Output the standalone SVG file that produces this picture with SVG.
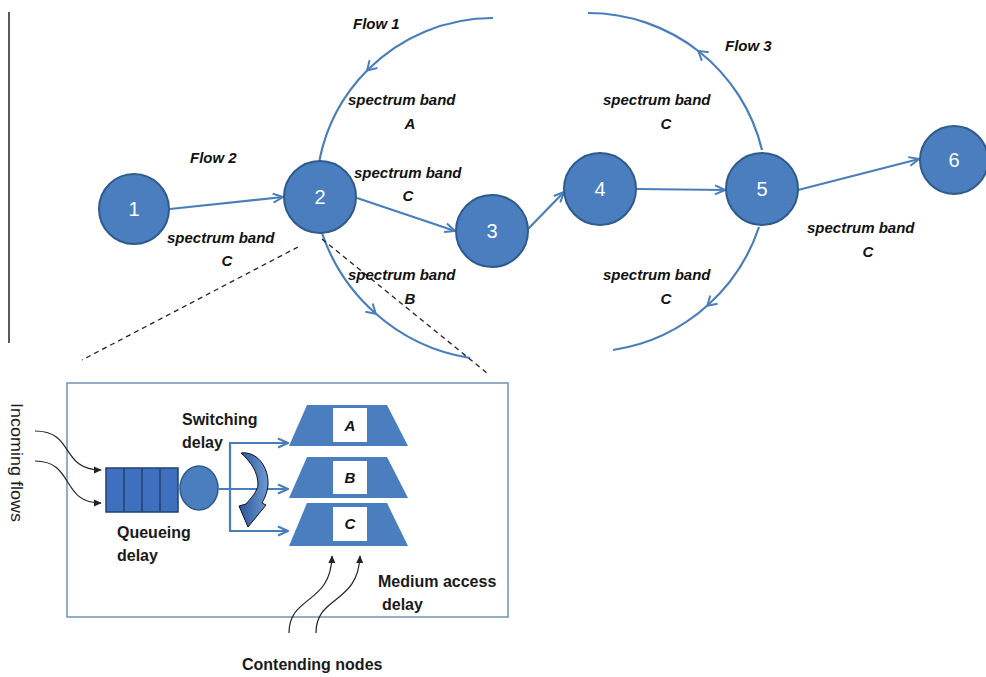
<svg xmlns="http://www.w3.org/2000/svg" width="986" height="677" viewBox="0 0 986 677">
<defs>
<style>
.node{fill:#4a7ebf;stroke:#2f5a8c;stroke-width:2}
.num{font-family:"Liberation Sans",Arial,sans-serif;font-size:20px;fill:#fff;text-anchor:middle}
.lab{font-family:"Liberation Sans",Arial,sans-serif;font-size:15px;font-weight:bold;font-style:italic;fill:#111}
.mid{text-anchor:middle}
.txt{font-family:"Liberation Sans",Arial,sans-serif;font-size:16px;font-weight:bold;fill:#1a1a1a}
.edge{fill:none;stroke:#4a7ebb;stroke-width:2.2}
.dash{fill:none;stroke:#222;stroke-width:1.3;stroke-dasharray:5,4}
.blk{fill:none;stroke:#222;stroke-width:1.2}
.trap{fill:#4a7ebf}
.slot{fill:#fff}
</style>
<marker id="arr" viewBox="0 0 12 12" refX="11" refY="6" markerWidth="12" markerHeight="12" orient="auto" markerUnits="userSpaceOnUse">
<path d="M1,1.5 L11,6 L1,10.5" fill="none" stroke="#4a7ebb" stroke-width="2"/>
</marker>
<marker id="chev" viewBox="0 0 14 14" refX="9" refY="7" markerWidth="14" markerHeight="14" orient="auto" markerUnits="userSpaceOnUse">
<path d="M1,1.5 L10,7 L1,12.5" fill="none" stroke="#4a7ebb" stroke-width="2"/>
</marker>
<marker id="barr" viewBox="0 0 10 10" refX="9" refY="5" markerWidth="8" markerHeight="8" orient="auto" markerUnits="userSpaceOnUse">
<path d="M0,0.5 L10,5 L0,9.5 Z" fill="#222"/>
</marker>
<linearGradient id="cg" x1="0" y1="0" x2="1" y2="0">
<stop offset="0" stop-color="#2c5596"/>
<stop offset="1" stop-color="#6d9ad6"/>
</linearGradient>
</defs>

<line x1="9" y1="12" x2="9" y2="343" stroke="#222" stroke-width="1.5"/>

<g id="connectors">
<line class="edge" x1="170" y1="209" x2="283" y2="197" marker-end="url(#arr)"/>
<line class="edge" x1="357" y1="198" x2="455" y2="231" marker-end="url(#arr)"/>
<line class="edge" x1="528" y1="229" x2="564" y2="192" marker-end="url(#arr)"/>
<line class="edge" x1="637" y1="189" x2="725" y2="190" marker-end="url(#arr)"/>
<line class="edge" x1="798" y1="190" x2="919" y2="159" marker-end="url(#arr)"/>
<path class="edge" d="M493,18 A177,177 0 0 0 367.8,69.8 A177,177 0 0 0 319.5,159.9" marker-mid="url(#chev)"/>
<path class="edge" d="M322,233 A187,187 0 0 0 375,313 A187,187 0 0 0 470,358" marker-mid="url(#chev)"/>
<path class="edge" d="M762,150 A179,179 0 0 0 699,51.5 A179,179 0 0 0 588,13" marker-mid="url(#chev)"/>
<path class="edge" d="M759,227 A183,183 0 0 1 708,305 A183,183 0 0 1 613,350" marker-mid="url(#chev)"/>
<line class="dash" x1="298" y1="247" x2="82" y2="360"/>
<line class="dash" x1="322" y1="239" x2="487" y2="373"/>
</g>

<g id="node1"><circle class="node" cx="134" cy="209" r="35"/><text class="num" x="134" y="216">1</text></g>
<g id="node2"><circle class="node" cx="320" cy="197" r="36"/><text class="num" x="320" y="204">2</text></g>
<g id="node3"><circle class="node" cx="492" cy="231" r="36"/><text class="num" x="492" y="238">3</text></g>
<g id="node4"><circle class="node" cx="600" cy="189" r="36"/><text class="num" x="600" y="196">4</text></g>
<g id="node5"><circle class="node" cx="762" cy="189" r="36"/><text class="num" x="762" y="196">5</text></g>
<g id="node6"><circle class="node" cx="954" cy="160" r="34"/><text class="num" x="954" y="167">6</text></g>

<g id="labels">
<text class="lab" x="353" y="29">Flow 1</text>
<text class="lab" x="190" y="163">Flow 2</text>
<text class="lab" x="725" y="51">Flow 3</text>
<text class="lab" x="348" y="105">spectrum band</text>
<text class="lab mid" x="410" y="129">A</text>
<text class="lab" x="354" y="178">spectrum band</text>
<text class="lab mid" x="408" y="201">C</text>
<text class="lab" x="348" y="280">spectrum band</text>
<text class="lab mid" x="410" y="304">B</text>
<text class="lab" x="167" y="243">spectrum band</text>
<text class="lab mid" x="227" y="266">C</text>
<text class="lab" x="603" y="105">spectrum band</text>
<text class="lab mid" x="666" y="129">C</text>
<text class="lab" x="603" y="280">spectrum band</text>
<text class="lab mid" x="666" y="304">C</text>
<text class="lab" x="807" y="233">spectrum band</text>
<text class="lab mid" x="868" y="257">C</text>
</g>

<g id="inset">
<rect x="67" y="383" width="441" height="234" fill="none" stroke="#7391b5" stroke-width="1.5"/>
<text class="txt" x="0" y="0" transform="translate(11,403) rotate(90)" style="font-weight:normal" textLength="119" lengthAdjust="spacingAndGlyphs">Incoming flows</text>
<path class="blk" d="M35,431 C75,431 60,470 101,470" marker-end="url(#barr)"/>
<path class="blk" d="M35,461 C75,461 60,503 101,503" marker-end="url(#barr)"/>
<g id="queue">
<rect x="106" y="468" width="72" height="44" fill="#3f70c0" stroke="#23406f" stroke-width="1.5"/>
<line x1="124" y1="468" x2="124" y2="512" stroke="#23406f" stroke-width="1.5"/>
<line x1="142" y1="468" x2="142" y2="512" stroke="#23406f" stroke-width="1.5"/>
<line x1="160" y1="468" x2="160" y2="512" stroke="#23406f" stroke-width="1.5"/>
</g>
<ellipse id="server" cx="199" cy="488" rx="19" ry="22" fill="#4a7ebf" stroke="#2f5a8c" stroke-width="1.5"/>
<path class="edge" d="M218,489 L288,489" marker-end="url(#arr)"/>
<path class="edge" d="M288,443 L230,443 L230,531 L288,531" marker-end="url(#arr)"/>
<path class="edge" d="M230,443 L288,443" marker-end="url(#arr)"/>
<path d="M241,453 C257,451 269,467 268,485 C267,494 264,499 262,503 L266,505 L248,527 L239,506 L246,504 C251,498 257,492 258,485 C258,472 251,462 241,453 Z" fill="url(#cg)" stroke="#111" stroke-width="1"/>
<g id="bandA"><path class="trap" d="M307,405 L387,405 L408,446 L289,446 Z"/><rect class="slot" x="333" y="408" width="34" height="34"/><text class="lab mid" x="350" y="431">A</text></g>
<g id="bandB"><path class="trap" d="M307,457 L387,457 L408,498 L289,498 Z"/><rect class="slot" x="333" y="461" width="34" height="33"/><text class="lab mid" x="350" y="483">B</text></g>
<g id="bandC"><path class="trap" d="M307,503 L387,503 L408,546 L289,546 Z"/><rect class="slot" x="333" y="507" width="34" height="34"/><text class="lab mid" x="350" y="529">C</text></g>
<text class="txt" x="182" y="425">Switching</text>
<text class="txt" x="182" y="448">delay</text>
<text class="txt" x="117" y="538">Queueing</text>
<text class="txt" x="117" y="561">delay</text>
<text class="txt" x="378" y="587">Medium access</text>
<text class="txt" x="382" y="610">delay</text>
<path class="blk" d="M289,633 C289,595 331,605 332,556" marker-end="url(#barr)"/>
<path class="blk" d="M316,633 C316,595 358,605 360,556" marker-end="url(#barr)"/>
</g>
<text class="txt" x="242" y="670">Contending nodes</text>
</svg>
